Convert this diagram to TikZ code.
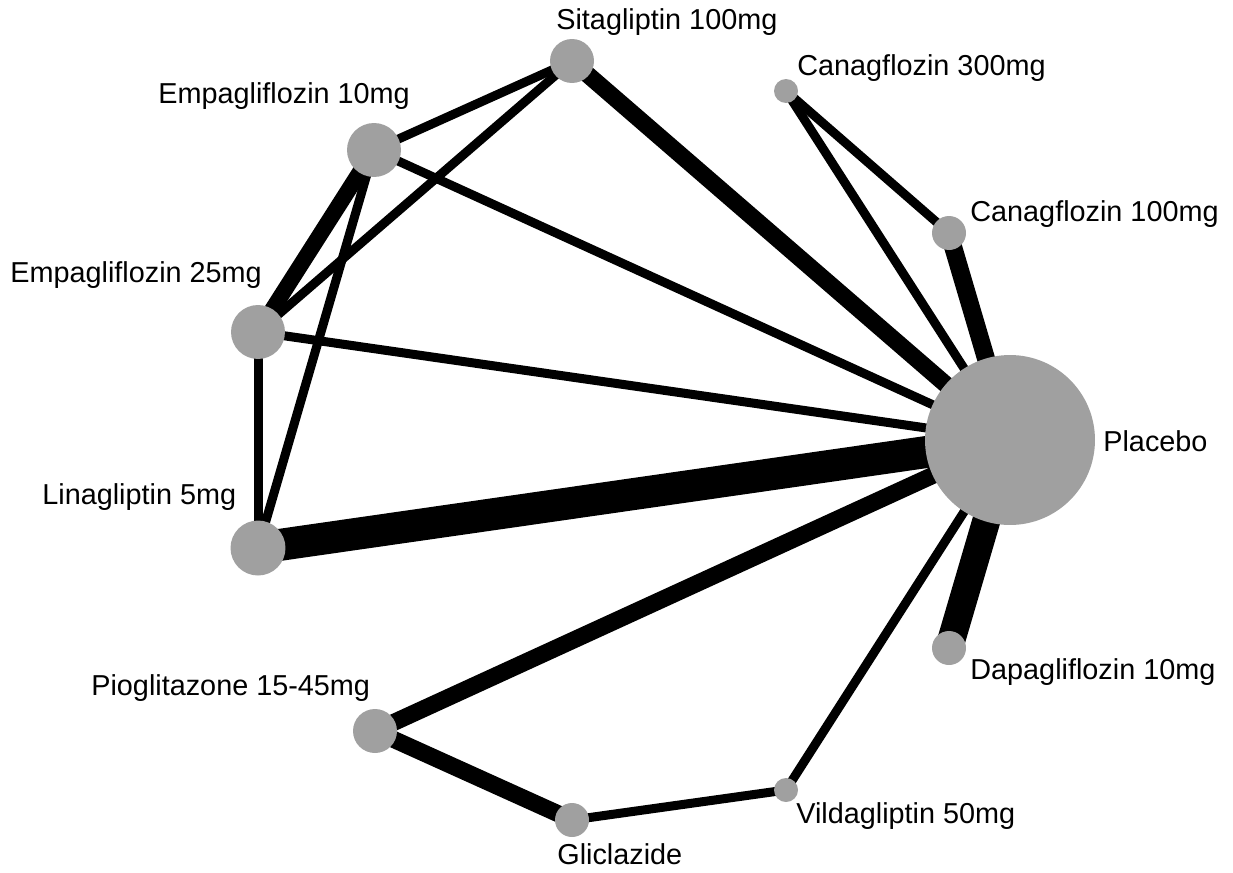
\documentclass[tikz,border=0pt]{standalone}
\usepackage{fontspec}
\setmainfont{Liberation Sans}
\usetikzlibrary{backgrounds}
\definecolor{trtgray}{RGB}{160,160,160}

\begin{document}
\begin{tikzpicture}[x=0.02cm, y=-0.02cm, font=\fontsize{16.4}{19}\selectfont,
  trt/.style={circle, fill=trtgray, inner sep=0pt, minimum size=#1},
  lbl/.style={anchor=west, inner sep=0pt},
  arm/.style={line width=#1}]
  \useasboundingbox (0,0) rectangle (1233,872);
  % treatments
  \node[trt=3.4cm]  (plac)  at (1010,440) {};
  \node[trt=0.88cm] (sita)  at (572,61) {};
  \node[trt=0.48cm] (cana3) at (786,91) {};
  \node[trt=0.68cm] (cana1) at (949,233) {};
  \node[trt=1.08cm] (empa1) at (374,150) {};
  \node[trt=1.08cm] (empa2) at (258,332) {};
  \node[trt=1.1cm]  (lina)  at (258,548) {};
  \node[trt=0.88cm] (pio)   at (375,731) {};
  \node[trt=0.68cm] (glic)  at (572,820) {};
  \node[trt=0.48cm] (vild)  at (786,790) {};
  \node[trt=0.68cm] (dapa)  at (949,648) {};
  % labels
  \node[lbl] (lsita)  at (556,22)  {Sitagliptin 100mg};
  \node[lbl] (lcana3) at (797,68)  {Canagflozin 300mg};
  \node[lbl] (lempa1) at (158,96)  {Empagliflozin 10mg};
  \node[lbl] (lcana1) at (970,214) {Canagflozin 100mg};
  \node[lbl] (lempa2) at (10,275)  {Empagliflozin 25mg};
  \node[lbl] (lplac)  at (1103,441) {Placebo};
  \node[lbl] (llina)  at (42,497)  {Linagliptin 5mg};
  \node[lbl] (ldapa)  at (970,672) {Dapagliflozin 10mg};
  \node[lbl] (lpio)   at (91,688)  {Pioglitazone 15-45mg};
  \node[lbl] (lvild)  at (796,816) {Vildagliptin 50mg};
  \node[lbl] (lglic)  at (557,854) {Gliclazide};
  % comparisons, width ~ number of trials
  \begin{scope}[on background layer]
    \draw[arm=0.18cm] (sita.center) -- (empa1.center);
    \draw[arm=0.18cm] (sita.center) -- (empa2.center);
    \draw[arm=0.34cm] (sita.center) -- (plac.center);
    \draw[arm=0.18cm] (empa1.center) -- (plac.center);
    \draw[arm=0.32cm] (empa1.center) -- (empa2.center);
    \draw[arm=0.18cm] (empa1.center) -- (lina.center);
    \draw[arm=0.18cm] (empa2.center) -- (plac.center);
    \draw[arm=0.18cm] (empa2.center) -- (lina.center);
    \draw[arm=0.64cm] (lina.center) -- (plac.center);
    \draw[arm=0.34cm] (pio.center) -- (plac.center);
    \draw[arm=0.34cm] (pio.center) -- (glic.center);
    \draw[arm=0.18cm] (glic.center) -- (vild.center);
    \draw[arm=0.18cm] (vild.center) -- (plac.center);
    \draw[arm=0.56cm] (dapa.center) -- (plac.center);
    \draw[arm=0.18cm] (cana3.center) -- (plac.center);
    \draw[arm=0.18cm] (cana3.center) -- (cana1.center);
    \draw[arm=0.36cm] (cana1.center) -- (plac.center);
  \end{scope}
\end{tikzpicture}
\end{document}
